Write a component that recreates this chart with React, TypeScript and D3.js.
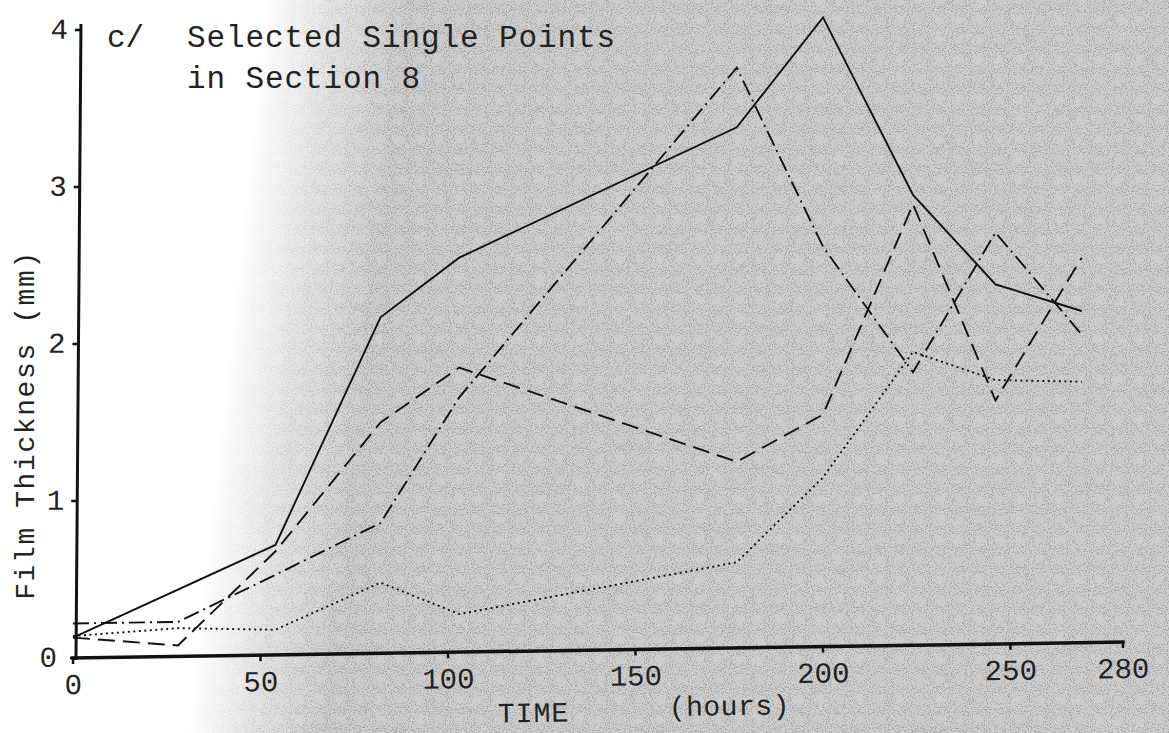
import React from "react";
import * as d3 from "d3";

// Time (hours) at which the single points were measured
const hours = [0, 28, 54, 82, 103, 177, 200, 224, 246, 269];
// Film thickness (mm) for the four selected points
const solidSeries = [0.13, null, 0.72, 2.17, 2.55, 3.38, 4.08, 2.95, 2.38, 2.21];
const dashedSeries = [0.13, 0.08, 0.68, 1.5, 1.85, 1.25, 1.55, 2.89, 1.64, 2.55];
const dashDotSeries = [0.22, 0.23, 0.53, 0.86, 1.66, 3.76, 2.62, 1.82, 2.71, 2.06];
const dottedSeries = [0.14, 0.19, 0.18, 0.48, 0.28, 0.61, 1.15, 1.95, 1.77, 1.76];

const xTicks = [0, 50, 100, 150, 200, 250, 280];
const yTicks = [0, 1, 2, 3, 4];

const W = 1169;
const H = 733;
const FONT = "'Liberation Mono', 'DejaVu Sans Mono', monospace";

const series = [
  { name: "solid", values: solidSeries, dash: "none" },
  { name: "dashed", values: dashedSeries, dash: "17 8" },
  { name: "dashdot", values: dashDotSeries, dash: "16 5 2 5" },
  { name: "dotted", values: dottedSeries, dash: "2 3.5" },
];

export default function App() {
  const x = d3.scaleLinear().domain([0, 280]).range([73, 1123]);
  const y = d3.scaleLinear().domain([0, 4]).range([658, 30]);
  const line = d3
    .line<[number, number]>()
    .x((d) => x(d[0]))
    .y((d) => y(d[1]));

  const x0 = x(0);
  const y0 = y(0);

  return (
    <svg
      width={W}
      height={H}
      viewBox={`0 0 ${W} ${H}`}
      style={{ position: "absolute", left: 0, top: 0, display: "block" }}
      fontFamily={FONT}
    >
      <defs>
        <linearGradient id="paper" gradientUnits="userSpaceOnUse" x1={230} y1={330} x2={370} y2={345}>
          <stop offset="0" stopColor="#ffffff" />
          <stop offset="0.5" stopColor="#e2e2e2" />
          <stop offset="1" stopColor="#cdcdcd" />
        </linearGradient>
        <filter id="speck" x="0" y="0" width="100%" height="100%">
          <feTurbulence type="fractalNoise" baseFrequency="0.95" numOctaves="1" seed="3" result="n" />
          <feColorMatrix
            in="n"
            type="matrix"
            values="0 0 0 0 0  0 0 0 0 0  0 0 0 0 0  0 0 0 -14 6.2"
          />
        </filter>
        <linearGradient id="paperMask" gradientUnits="userSpaceOnUse" x1={230} y1={330} x2={370} y2={345}>
          <stop offset="0" stopColor="#000" />
          <stop offset="1" stopColor="#fff" />
        </linearGradient>
        <mask id="grayMask">
          <rect x={0} y={0} width={W} height={H} fill="url(#paperMask)" />
        </mask>
      </defs>

      <rect x={0} y={0} width={W} height={H} fill="url(#paper)" />
      <g mask="url(#grayMask)" opacity={0.18}>
        <rect x={0} y={0} width={W} height={H} filter="url(#speck)" />
      </g>

      {/* data lines */}
      <g fill="none" stroke="#111" strokeWidth={1.9} strokeLinejoin="miter" strokeLinecap="butt">
        {series.map((s) => {
          const pts = hours
            .map((h, i) => [h, s.values[i]] as [number, number | null])
            .filter((d) => d[1] !== null) as [number, number][];
          return <path key={s.name} d={line(pts) || ""} strokeDasharray={s.dash} />;
        })}
      </g>

      {/* y axis */}
      <g transform={`rotate(0.45, ${x0 + 3}, ${y0})`}>
        <line x1={x0 + 3} x2={x0 + 3} y1={y0 + 2} y2={y(4) - 6} stroke="#111" strokeWidth={3} />
        {yTicks.map((t) => (
          <g key={t}>
            <line x1={x0 - 3} x2={x0 + 3} y1={y(t)} y2={y(t)} stroke="#111" strokeWidth={2.5} />
            <text
              x={t === 0 ? 57 : 63}
              y={y(t) + 9}
              textAnchor="end"
              fontSize={29}
              fill="#222"
            >
              {t}
            </text>
          </g>
        ))}
      </g>

      {/* x axis */}
      <g transform={`rotate(-0.87, ${x0}, ${y0})`}>
        <line x1={x0 - 2} x2={x(280) + 2} y1={y0} y2={y0} stroke="#111" strokeWidth={3.5} />
        {xTicks.map((t) => (
          <g key={t}>
            <line x1={x(t)} x2={x(t)} y1={y0} y2={y0 + 6} stroke="#111" strokeWidth={2.5} />
            <text x={x(t)} y={y0 + 36} textAnchor="middle" fontSize={29} fill="#222">
              {t}
            </text>
          </g>
        ))}
        <text x={497} y={y0 + 71} fontSize={28} fill="#222" letterSpacing={1}>
          TIME
        </text>
        <text x={668} y={y0 + 67} fontSize={28} fill="#222" letterSpacing={0.5}>
          (hours)
        </text>
      </g>

      {/* y axis title */}
      <text
        transform="translate(34, 425) rotate(-90)"
        textAnchor="middle"
        fontSize={28}
        fill="#222"
        letterSpacing={1.6}
      >
        Film Thickness (mm)
      </text>

      {/* panel title */}
      <text x={107} y={47} fontSize={31} fill="#222">
        c/
      </text>
      <text x={187} y={47} fontSize={31} fill="#222" letterSpacing={0.9}>
        Selected Single Points
      </text>
      <text x={187} y={88} fontSize={31} fill="#222" letterSpacing={0.9}>
        in Section 8
      </text>
    </svg>
  );
}
